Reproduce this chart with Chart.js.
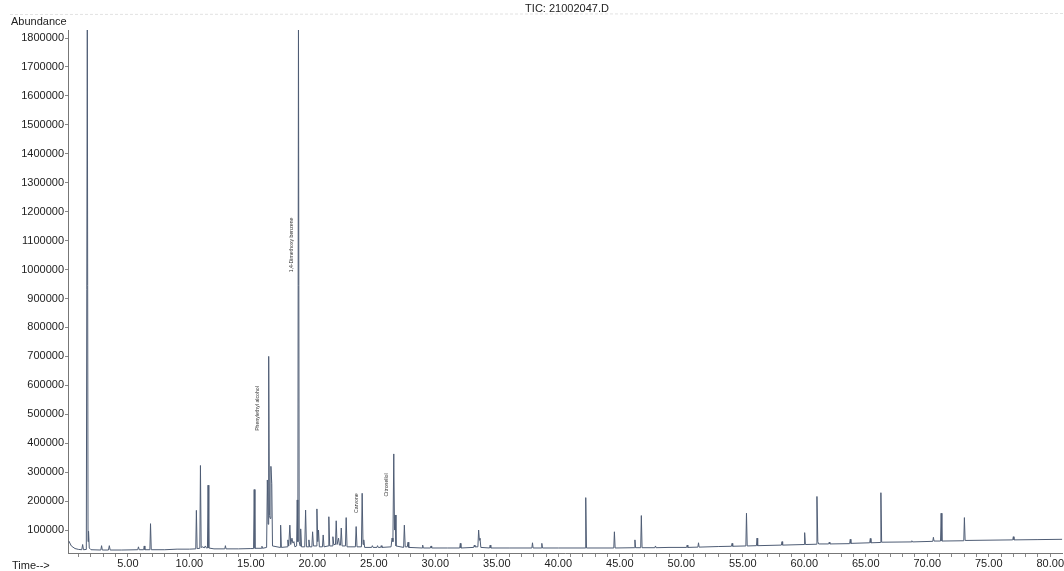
<!DOCTYPE html>
<html>
<head>
<meta charset="utf-8">
<script src="https://cdn.jsdelivr.net/npm/chart.js@4.4.1/dist/chart.umd.min.js"></script>
<style>
  html, body { margin: 0; padding: 0; background: #fff; }
  #wrap { width: 1064px; height: 571px; position: relative; }
</style>
</head>
<body>
<div id="wrap"><canvas id="ticChart"></canvas></div>
<script>
// retention time (min) of every point of the trace
const times = [
  0.2, 0.4, 0.7, 1.0, 1.25, 1.32, 1.39, 1.62, 1.70, 1.76, 1.80, 1.86, 2.0,
  2.8, 2.86, 2.92, 3.42, 3.49, 3.56, 4.5, 5.8, 5.86, 5.92, 6.28, 6.33, 6.38,
  6.79, 6.84, 6.90, 8.0, 9.0, 10.0, 10.52, 10.57, 10.63, 10.85, 10.90, 10.96,
  11.1, 11.2, 11.3, 11.38, 11.47, 11.52, 11.58, 12.0, 12.88, 12.93, 12.98,
  14.0, 15.0, 15.22, 15.27, 15.33, 15.85, 15.90, 15.95, 16.28, 16.34, 16.40,
  16.45, 16.51, 16.57, 16.63, 16.70, 16.76, 17.37, 17.42, 17.48, 17.95, 18.01,
  18.08, 18.17, 18.24, 18.34, 18.42, 18.50, 18.58, 18.72, 18.77, 18.82, 18.87,
  18.93, 19.00, 19.05, 19.12, 19.38, 19.45, 19.52, 19.66, 19.72, 19.78, 19.96,
  20.02, 20.09, 20.30, 20.37, 20.44, 20.50, 20.57, 20.82, 20.88, 20.95, 21.28,
  21.34, 21.41, 21.60, 21.67, 21.74, 21.88, 21.94, 22.01, 22.13, 22.20, 22.29,
  22.35, 22.42, 22.69, 22.75, 22.82, 23.50, 23.56, 23.63, 23.99, 24.05, 24.12,
  24.18, 24.25, 24.82, 24.88, 24.94, 25.25, 25.30, 25.36, 25.55, 25.60, 25.66,
  26.40, 26.48, 26.55, 26.62, 26.68, 26.73, 26.80, 27.42, 27.48, 27.55, 27.72,
  27.78, 27.84, 28.92, 28.97, 29.02, 29.60, 29.65, 29.70, 31.0, 31.98, 32.03,
  32.08, 33.12, 33.17, 33.22, 33.46, 33.52, 33.58, 33.63, 33.70, 34.41, 34.46,
  34.51, 36.0, 37.85, 37.90, 37.95, 38.61, 38.66, 38.71, 40.0, 42.18, 42.23,
  42.29, 44.51, 44.56, 44.62, 46.18, 46.23, 46.28, 46.70, 46.75, 46.81, 47.85,
  47.90, 47.95, 49.0, 50.43, 50.48, 50.53, 51.35, 51.40, 51.45, 53.0, 54.08,
  54.13, 54.18, 55.25, 55.30, 55.36, 56.11, 56.16, 56.21, 58.14, 58.19, 58.24,
  59.98, 60.03, 60.09, 60.98, 61.03, 61.10, 61.17, 61.98, 62.03, 62.08, 63.69,
  63.74, 63.79, 65.32, 65.37, 65.42, 66.17, 66.23, 66.29, 68.70, 68.75, 68.80,
  70.45, 70.50, 70.55, 71.08, 71.13, 71.19, 72.97, 73.02, 73.08, 76.95, 77.00,
  77.05, 79.0, 81.0
];

// abundance at each of those times
const abundance = [
  62000, 45000, 36000, 33000, 32000, 50000, 32000, 33000, 1900000, 60000, 96000, 38000, 32000,
  31000, 46000, 31000, 31000, 46000, 31000, 31000, 32000, 42000, 32000, 32000, 45000, 32000,
  32000, 122000, 32000, 32000, 34000, 34000, 35000, 168000, 36000, 37000, 323000, 40000,
  42000, 38000, 45000, 38000, 38000, 255000, 38000, 35000, 35000, 46000, 35000,
  35000, 36000, 36000, 240000, 37000, 37000, 44000, 37000, 40000, 273000, 120000,
  700000, 150000, 140000, 320000, 260000, 45000, 40000, 117000, 40000, 42000, 66000,
  45000, 117000, 50000, 72000, 55000, 60000, 42000, 45000, 204000, 60000, 1900000,
  60000, 45000, 104000, 42000, 42000, 169000, 42000, 42000, 66000, 42000, 42000,
  94000, 45000, 45000, 173000, 60000, 100000, 42000, 42000, 83000, 42000, 45000,
  146000, 45000, 45000, 77000, 50000, 50000, 132000, 50000, 72000, 48000, 48000,
  107000, 45000, 45000, 143000, 42000, 42000, 112000, 42000, 42000, 227000, 50000,
  66000, 40000, 40000, 46000, 40000, 40000, 46000, 40000, 40000, 46000, 40000,
  42000, 72000, 60000, 363000, 100000, 152000, 45000, 40000, 117000, 42000, 42000,
  58000, 40000, 38000, 48000, 38000, 38000, 45000, 38000, 38000, 38000, 54000,
  38000, 40000, 48000, 42000, 42000, 100000, 65000, 72000, 40000, 38000, 48000,
  38000, 38000, 38000, 56000, 38000, 38000, 54000, 38000, 38000, 38000, 212000,
  38000, 38000, 94000, 38000, 39000, 66000, 39000, 39000, 150000, 39000, 39000,
  45000, 39000, 40000, 40000, 48000, 40000, 41000, 56000, 41000, 43000, 44000,
  54000, 44000, 45000, 158000, 45000, 46000, 72000, 46000, 48000, 60000, 48000,
  50000, 91000, 50000, 51000, 216000, 60000, 52000, 52000, 58000, 52000, 53000,
  68000, 54000, 56000, 71000, 56000, 57000, 229000, 58000, 59000, 63000, 59000,
  61000, 75000, 62000, 62000, 158000, 62000, 63000, 143000, 64000, 66000, 77000,
  66000, 67000, 68000
];

// y axis tick values
const yTicks = [
  100000, 200000, 300000, 400000, 500000, 600000, 700000, 800000, 900000,
  1000000, 1100000, 1200000, 1300000, 1400000, 1500000, 1600000, 1700000, 1800000
];

// x axis labelled ticks
const xLabels = ['5.00', '10.00', '15.00', '20.00', '25.00', '30.00', '35.00', '40.00',
  '45.00', '50.00', '55.00', '60.00', '65.00', '70.00', '75.00', '80.00'];

// names printed beside peaks, with where they sit (min, abundance)
const peakNames = ['Phenylethyl alcohol', '1,4-Dimethoxy benzene', 'Carvone', 'Citronellol'];
const peakNameTimes = [15.55, 18.27, 23.61, 26.05];
const peakNameLevels = [520000, 1085000, 193000, 256000];

const FONT = '"Liberation Sans", Arial, sans-serif';

// minor ticks every minute, labels only on the 5 min marks
const xTickValues = [];
for (let m = 1; m <= 80; m++) xTickValues.push(m);

const textPlugin = {
    id: 'ticTexts',
    afterDraw(chart) {
        const ctx = chart.ctx;
        const xs = chart.scales.x;
        const ys = chart.scales.y;
        ctx.save();

        // faint line of the scan at the top
        ctx.strokeStyle = '#e2e2e2';
        ctx.lineWidth = 1;
        ctx.setLineDash([3, 2]);
        ctx.beginPath();
        ctx.moveTo(10, 14.5);
        ctx.lineTo(1064, 13.5);
        ctx.stroke();
        ctx.setLineDash([]);

        ctx.fillStyle = '#222';
        ctx.font = '11px ' + FONT;
        ctx.textBaseline = 'middle';
        ctx.textAlign = 'center';
        ctx.fillText('TIC: 21002047.D', 567, 9);
        ctx.textAlign = 'left';
        ctx.fillText('Abundance', 11, 22);
        ctx.fillText('Time-->', 12, 566);

        // peak names, vertical
        ctx.font = '5.2px ' + FONT;
        ctx.fillStyle = '#333';
        peakNames.forEach((name, i) => {
            ctx.save();
            ctx.translate(xs.getPixelForValue(peakNameTimes[i]), ys.getPixelForValue(peakNameLevels[i]));
            ctx.rotate(-Math.PI / 2);
            ctx.textAlign = 'center';
            ctx.fillText(name, 0, 0);
            ctx.restore();
        });
        ctx.restore();
    }
};

const ticCtx = document.getElementById('ticChart').getContext('2d');
new Chart(ticCtx, {
    type: 'line',
    data: {
        datasets: [{
            label: 'TIC',
            data: times.map((t, i) => ({ x: t, y: abundance[i] })),
            borderColor: '#4f5d75',
            borderWidth: 1,
            pointRadius: 0,
            tension: 0,
            fill: false
        }]
    },
    options: {
        responsive: true,
        maintainAspectRatio: false,
        animation: false,
        layout: { padding: { top: 30, right: 0, left: 0, bottom: 0 } },
        plugins: {
            legend: { display: false },
            title: { display: false },
            tooltip: { enabled: false }
        },
        scales: {
            x: {
                type: 'linear',
                min: 0.13,
                max: 80.97,
                afterBuildTicks: axis => { axis.ticks = xTickValues.map(v => ({ value: v })); },
                afterFit: scale => { scale.height = 18; },
                border: { color: '#777', width: 1 },
                grid: { drawOnChartArea: false, tickLength: 4, color: '#888' },
                ticks: {
                    autoSkip: false,
                    maxRotation: 0,
                    padding: 0,
                    color: '#222',
                    font: { family: FONT, size: 11 },
                    callback: v => (v % 5 === 0 ? xLabels[v / 5 - 1] : '')
                }
            },
            y: {
                min: 20700,
                max: 1827700,
                afterBuildTicks: axis => { axis.ticks = yTicks.map(v => ({ value: v })); },
                afterFit: scale => { scale.width = 68; },
                border: { color: '#777', width: 1 },
                grid: { drawOnChartArea: false, tickLength: 3, color: '#888' },
                ticks: {
                    padding: 1,
                    color: '#222',
                    font: { family: FONT, size: 11 },
                    callback: v => String(v)
                }
            }
        }
    },
    plugins: [textPlugin]
});
</script>
</body>
</html>
